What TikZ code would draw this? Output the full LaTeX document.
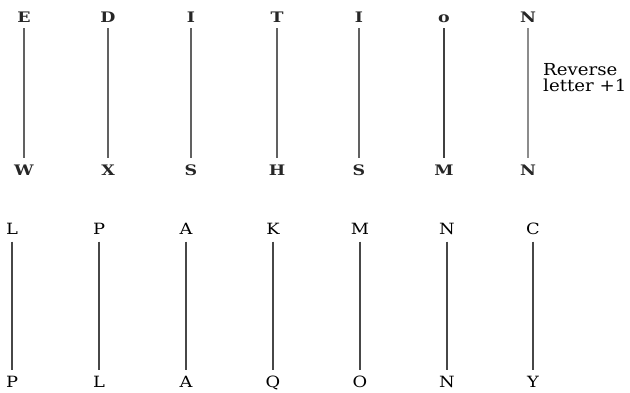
\documentclass[tikz,border=0pt]{standalone}
\usepackage{fontspec}
\setmainfont{DejaVu Serif}
\begin{document}
\begin{tikzpicture}[x=1pt,y=1pt,
  toplet/.style={inner sep=0pt, text height=10.5pt, text depth=0pt,
    font=\fontsize{14.5}{15}\selectfont\bfseries, xscale=1.2, transform shape, text=black!85},
  botlet/.style={inner sep=0pt, text height=11pt, text depth=0pt,
    font=\fontsize{15.5}{16}\selectfont, xscale=1.15, transform shape},
  topline/.style={line width=1.8pt, draw=black!62, shorten <=6pt, shorten >=7pt},
  botline/.style={line width=1.1pt, draw=black!72, shorten <=7pt, shorten >=6pt},
  note/.style={inner sep=0pt, anchor=north west, align=left,
    font=\fontsize{16.5}{16}\selectfont, xscale=1.1, transform shape}]
\useasboundingbox (0,0) rectangle (630,-392);
% top row
\foreach \i/\x/\a/\b in {1/24/E/W, 2/108/D/X, 3/191/I/S, 4/277/T/H, 5/359/I/S, 6/444/o/M, 7/528/N/N}{
  \node[toplet] (t\i) at (\x,-17) {\a};
  \node[toplet] (u\i) at (\x,-170) {\b};
}
\foreach \i in {1,2,3,4,5}{\draw[topline] (t\i) -- (u\i);}
\draw[topline, draw=black!75, line width=2.3pt] (t6) -- (u6);
\draw[topline, draw=black!45] (t7) -- (u7);
\node[note] (rev) at (543,-63) {Reverse\\letter +1};
% bottom row
\foreach \i/\x/\a/\b in {1/12/L/P, 2/99/P/L, 3/186/A/A, 4/273/K/Q, 5/360/M/O, 6/447/N/N, 7/533/C/Y}{
  \node[botlet] (p\i) at (\x,-229) {\a};
  \node[botlet] (q\i) at (\x,-382) {\b};
  \draw[botline] (p\i) -- (q\i);
}
\end{tikzpicture}
\end{document}
